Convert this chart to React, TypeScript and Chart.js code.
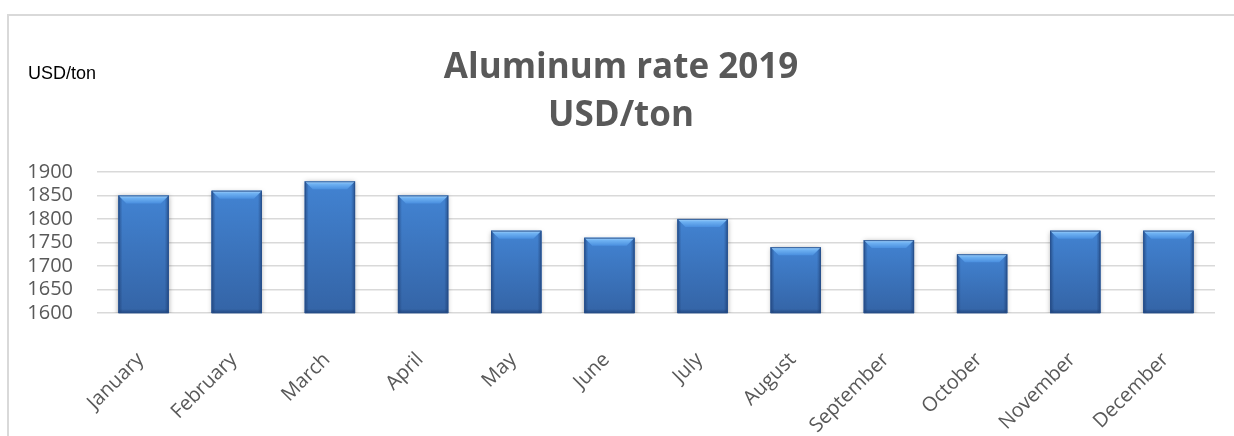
import React, { useEffect, useRef } from 'react';
import { Chart, registerables } from 'chart.js';

Chart.register(...registerables);

const months = [
  'January', 'February', 'March', 'April', 'May', 'June',
  'July', 'August', 'September', 'October', 'November', 'December',
];
const rates = [1850, 1860, 1880, 1850, 1775, 1760, 1800, 1740, 1755, 1725, 1775, 1775];
const yTicks = [1600, 1650, 1700, 1750, 1800, 1850, 1900];
const titleLines = ['Aluminum rate 2019', 'USD/ton'];
const unitLabel = 'USD/ton';

const bevelPlugin = {
  id: 'bevel',
  beforeDatasetsDraw(chart: any) {
    const c = chart.ctx;
    c.save();
    c.shadowColor = 'rgba(0,0,0,0.35)';
    c.shadowBlur = 5;
    c.shadowOffsetX = 0;
    c.shadowOffsetY = 1;
  },
  afterDatasetsDraw(chart: any) {
    const c = chart.ctx;
    c.restore();
    const area = chart.chartArea;
    const meta = chart.getDatasetMeta(0);
    meta.data.forEach((bar: any) => {
      const { x, y, base, width } = bar.getProps(['x', 'y', 'base', 'width'], true);
      const l = x - width / 2;
      const r = x + width / 2;
      const t = y;
      const b = Math.min(base, area.bottom);
      c.save();
      let g = c.createLinearGradient(0, t, 0, b);
      g.addColorStop(0, '#4283d2');
      g.addColorStop(1, '#3464a6');
      c.fillStyle = g;
      c.fillRect(l, t, width, b - t);
      const s = 4;
      g = c.createLinearGradient(l, 0, l + s, 0);
      g.addColorStop(0, 'rgba(25,55,105,0.6)');
      g.addColorStop(1, 'rgba(25,55,105,0)');
      c.fillStyle = g;
      c.fillRect(l, t, s, b - t);
      g = c.createLinearGradient(r, 0, r - s, 0);
      g.addColorStop(0, 'rgba(25,55,105,0.6)');
      g.addColorStop(1, 'rgba(25,55,105,0)');
      c.fillStyle = g;
      c.fillRect(r - s, t, s, b - t);
      g = c.createLinearGradient(0, b, 0, b - s);
      g.addColorStop(0, 'rgba(25,55,105,0.6)');
      g.addColorStop(1, 'rgba(25,55,105,0)');
      c.fillStyle = g;
      c.fillRect(l, b - s, width, s);
      const d = 8;
      c.beginPath();
      c.moveTo(l, t);
      c.lineTo(r, t);
      c.lineTo(r - d, t + d);
      c.lineTo(l + d, t + d);
      c.closePath();
      g = c.createLinearGradient(0, t, 0, t + d);
      g.addColorStop(0, '#a6d4fb');
      g.addColorStop(0.35, '#6eb1f2');
      g.addColorStop(1, '#4a8fdf');
      c.fillStyle = g;
      c.fill();
      c.strokeStyle = 'rgba(40,80,140,0.85)';
      c.lineWidth = 1;
      c.strokeRect(l + 0.5, t + 0.5, width - 1, b - t - 0.5);
      c.restore();
    });
  },
};

const unitPlugin = {
  id: 'unitLabel',
  afterDraw(chart: any) {
    const c = chart.ctx;
    c.save();
    c.font = '18px "Liberation Sans", Arial, sans-serif';
    c.fillStyle = '#000000';
    c.textAlign = 'left';
    c.textBaseline = 'alphabetic';
    c.fillText(unitLabel, 19, 63);
    c.restore();
  },
};

export default function App() {
  const canvasRef = useRef<HTMLCanvasElement | null>(null);

  useEffect(() => {
    if (!canvasRef.current) return;
    const chart = new Chart(canvasRef.current, {
      type: 'bar',
      data: {
        labels: months,
        datasets: [
          {
            data: rates,
            backgroundColor: '#3a74c0',
            borderWidth: 0,
            barPercentage: 0.54,
            categoryPercentage: 1,
          },
        ],
      },
      options: {
        responsive: false,
        animation: false,
        layout: { padding: { left: 18, right: 19, top: 0, bottom: 0 } },
        plugins: {
          legend: { display: false },
          tooltip: { enabled: false },
          title: {
            display: true,
            text: titleLines,
            color: '#595959',
            font: { family: 'Open Sans', size: 35, weight: 'bold', lineHeight: 1.37 },
            padding: { top: 28, bottom: 32 },
          },
        },
        scales: {
          x: {
            grid: { display: false },
            border: { display: false },
            ticks: {
              autoSkip: false,
              maxRotation: 45,
              minRotation: 45,
              padding: 27,
              labelOffset: -3,
              color: '#595959',
              font: { family: 'Open Sans', size: 20 },
            },
            afterFit: (scale: any) => {
              scale.height = 123;
            },
          },
          y: {
            min: 1600,
            max: 1900,
            afterBuildTicks: (scale: any) => {
              scale.ticks = yTicks.map((v) => ({ value: v }));
            },
            afterFit: (scale: any) => {
              scale.width = 70;
            },
            grid: { color: '#d9d9d9', lineWidth: 1.5, drawTicks: false },
            border: { display: false },
            ticks: {
              autoSkip: false,
              padding: 24,
              color: '#595959',
              font: { family: 'Open Sans', size: 20 },
              callback: (v: any) => String(v),
            },
          },
        },
      },
      plugins: [bevelPlugin, unitPlugin],
    });
    return () => chart.destroy();
  }, []);

  return (
    <div
      style={{
        position: 'absolute',
        left: 7,
        top: 14,
        width: 1227,
        height: 422,
        boxSizing: 'border-box',
        borderTop: '2px solid #d9d9d9',
        borderLeft: '2px solid #d9d9d9',
        background: '#ffffff',
        overflow: 'hidden',
      }}
    >
      <canvas ref={canvasRef} width={1225} height={420} style={{ display: 'block' }} />
    </div>
  );
}
